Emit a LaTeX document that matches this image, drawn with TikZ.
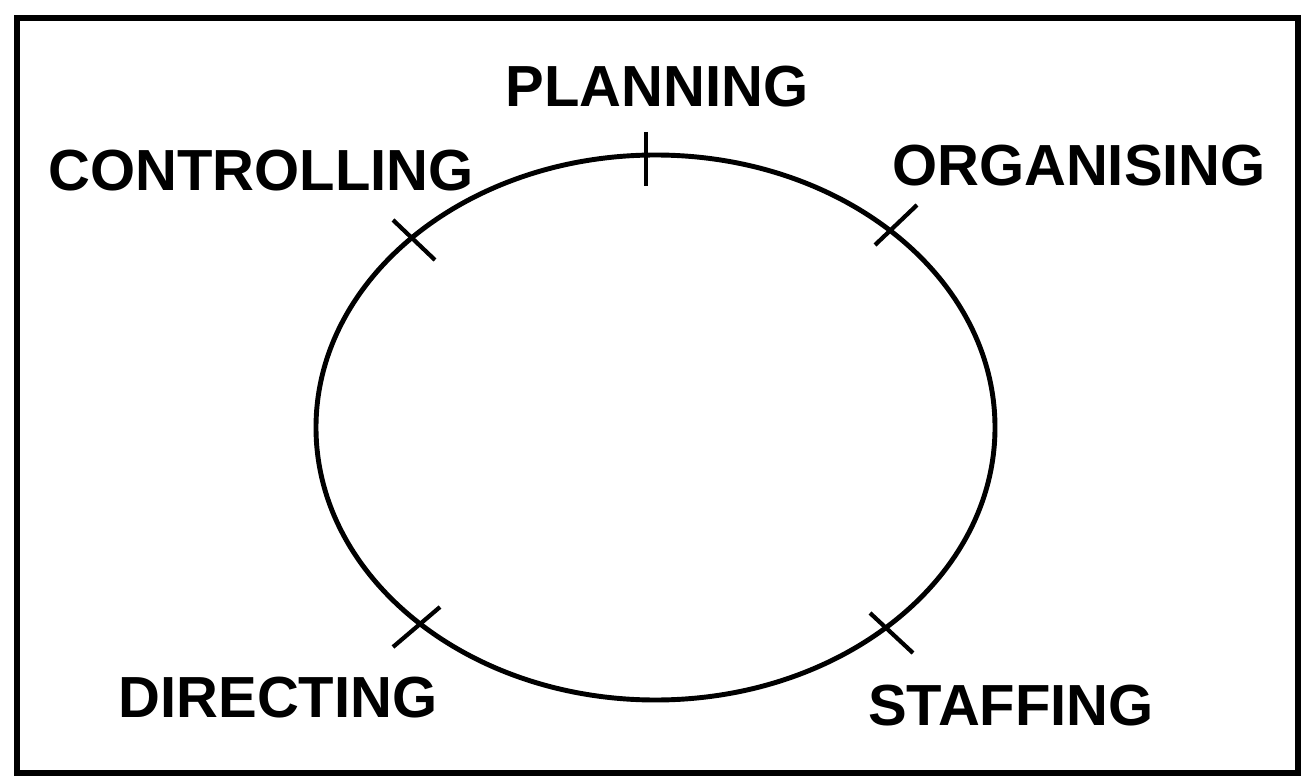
\documentclass[tikz,border=0pt]{standalone}
\usepackage{fontspec}
\setmainfont{Liberation Sans}
\usetikzlibrary{positioning}

\begin{document}
\begin{tikzpicture}[
    x=0.02cm, y=-0.02cm,
    func/.style={font=\fontsize{33}{40}\selectfont\bfseries, inner sep=0pt},
    cross/.style={line width=2.4pt}
]
\useasboundingbox (0,0) rectangle (1304,780);

% Frame
\draw[line width=3.4pt] (17,18) rectangle (1298,773);

% Cycle
\draw[line width=2.8pt] (655.5,427.5) ellipse [x radius=339.5, y radius=272.5];

% Functions
\node (plan) [func] at (657,87) {PLANNING};
\node (org) [func] at (1079,166) {ORGANISING};
\node (staff) [func] at (1011,706) {STAFFING};
\node (dir) [func] at (278,698) {DIRECTING};
\node (ctrl) [func] at (261,171) {CONTROLLING};

% Marks on the cycle
\draw [cross] (646,132) -- (646,186);
\draw [cross] (917,205) -- (875,245);
\draw [cross] (870,613) -- (913,653);
\draw [cross] (440,607) -- (393,647);
\draw [cross] (393,220) -- (435,260);

\end{tikzpicture}
\end{document}
